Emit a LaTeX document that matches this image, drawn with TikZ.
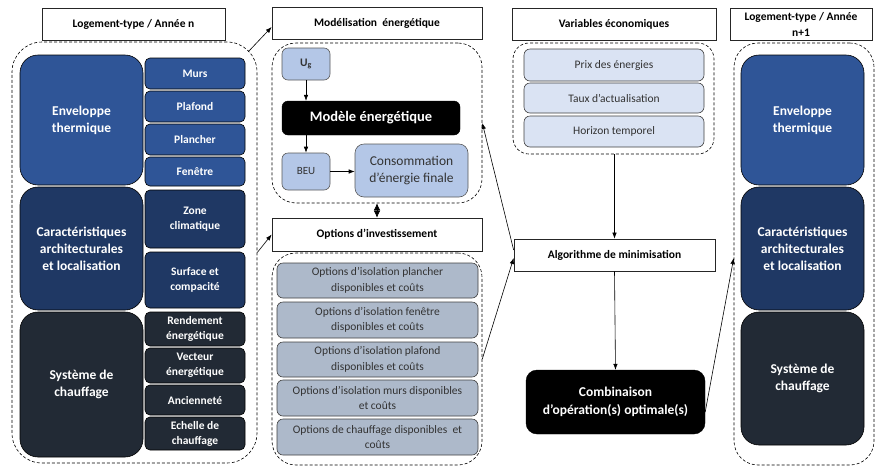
\documentclass[tikz,border=0pt]{standalone}
\usepackage{fontspec}
\setmainfont{Carlito}
\usepackage{xcolor}
\usetikzlibrary{arrows.meta, positioning, calc}
\definecolor{bleuEnv}{HTML}{2F5597}
\definecolor{bleuCar}{HTML}{1F3864}
\definecolor{grisSys}{HTML}{222A35}
\definecolor{bleuClair}{HTML}{B4C7E7}
\definecolor{grisOpt}{HTML}{ADB9CA}
\definecolor{bleuPale}{HTML}{DAE3F3}
\definecolor{texteGris}{HTML}{333333}
\begin{document}
\begin{tikzpicture}[x=1pt, y=-1pt,
    taille/.style 2 args={minimum width=#1pt, minimum height=#2pt},
    every node/.style={inner sep=0pt, align=center},
    entete/.style={draw=black!85, line width=0.7pt, fill=white, font=\fontsize{11.5}{15}\selectfont\bfseries},
    conteneur/.style={draw, line width=0.6pt, dash pattern=on 3pt off 2pt, rounded corners=24pt},
    grand/.style={draw=black, line width=0.6pt, rounded corners=18pt, text=white, font=\fontsize{13.5}{17}\selectfont\bfseries},
    petit/.style={draw=black, line width=0.6pt, rounded corners=5pt, text=white, font=\fontsize{11.5}{15}\selectfont\bfseries},
    option/.style={draw=black!75, line width=0.6pt, rounded corners=6pt, fill=grisOpt, text=texteGris, taille={201}{35}, font=\fontsize{11.5}{15.5}\selectfont},
    varbox/.style={draw=black!75, line width=0.6pt, rounded corners=6pt, fill=bleuPale, text=texteGris, font=\fontsize{11.5}{15}\selectfont},
    modele/.style={draw=black!65, line width=0.6pt, rounded corners=6pt, fill=bleuClair, text=texteGris},
    noir/.style={draw=black, fill=black, text=white, font=\bfseries},
    fleche/.style={-{Latex[length=6pt, width=4.5pt]}, line width=0.6pt}]
    \useasboundingbox (0,0) rectangle (876,467);

    % logement-type, annee n
    \node[entete, taille={183}{32}] (lgh) at (133.5,24) {Logement-type / Année n};
    \node[conteneur, taille={245}{421}, rounded corners=30pt] (lgc) at (134.5,252.5) {};
    \node[grand, fill=bleuEnv, taille={123}{130}] (env) at (81.5,120) {Enveloppe\\thermique};
    \node[grand, fill=bleuCar, taille={123}{123}] (car) at (81.5,248.5) {Caractéristiques\\architecturales\\et localisation};
    \node[grand, fill=grisSys, taille={123}{145}] (sys) at (81.5,384.5) {Système de\\chauffage};
    \node[petit, fill=bleuEnv, taille={100}{31}] (murs) at (195,73.5) {Murs};
    \node[petit, fill=bleuEnv, taille={100}{31}] (plafond) at (195,106.5) {Plafond};
    \node[petit, fill=bleuEnv, taille={100}{31}] (plancher) at (195,139.5) {Plancher};
    \node[petit, fill=bleuEnv, taille={100}{29}] (fenetre) at (195,171.5) {Fenêtre};
    \node[petit, fill=bleuCar, taille={100}{58}] (zone) at (195,219) {Zone\\climatique};
    \node[petit, fill=bleuCar, taille={100}{56}] (surface) at (195,280) {Surface et\\compacité};
    \node[petit, fill=grisSys, taille={100}{34}] (rendement) at (195,329) {Rendement\\énergétique};
    \node[petit, fill=grisSys, taille={100}{35}] (vecteur) at (195,365.5) {Vecteur\\énergétique};
    \node[petit, fill=grisSys, taille={100}{30}] (anciennete) at (195,400) {Ancienneté};
    \node[petit, fill=grisSys, taille={100}{33}] (echelle) at (195,433.5) {Echelle de\\chauffage};

    % modelisation energetique
    \node[entete, taille={210}{32}] (modh) at (377,23) {Modélisation~ énergétique};
    \node[conteneur, taille={210}{160}] (modc) at (377,123) {};
    \node[modele, taille={48}{32}, font=\fontsize{11.5}{14}\selectfont\bfseries] (ug) at (306,64) {U\textsubscript{g}};
    \node[noir, rounded corners=6pt, taille={178}{34}, font=\fontsize{14.5}{17}\selectfont\bfseries] (moteur) at (371,118) {Modèle énergétique};
    \node[modele, taille={48}{37}, font=\fontsize{11}{14}\selectfont] (beu) at (306,171.5) {BEU};
    \node[modele, rounded corners=9pt, taille={113}{53}, font=\fontsize{13.5}{17}\selectfont] (conso) at (411.5,170.5) {Consommation\\d’énergie finale};
    \draw[fleche] (ug.south) -- (ug.south |- moteur.north);
    \draw[fleche] (beu.north |- moteur.south) -- (beu.north);
    \draw[fleche] (beu.east) -- (beu.east -| conso.west);

    % options d'investissement
    \node[entete, taille={210}{33}] (opth) at (377,234.5) {Options d’investissement};
    \node[conteneur, taille={210}{212}] (optc) at (377,359) {};
    \node[option] (opt1) at (377.5,280.5) {Options d’isolation plancher\\disponibles et coûts};
    \node[option, taille={201}{36}] (opt2) at (377.5,320) {Options d’isolation fenêtre\\disponibles et coûts};
    \node[option] (opt3) at (377.5,359.5) {Options d’isolation plafond\\disponibles et coûts};
    \node[option, taille={201}{36}] (opt4) at (377.5,398) {Options d’isolation murs disponibles\\et coûts};
    \node[option, taille={201}{36}] (opt5) at (377.5,437) {Options de chauffage disponibles~ et\\coûts};
    \draw[{Latex[length=7pt, width=6.5pt]}-{Latex[length=7pt, width=6.5pt]}, line width=0.6pt] (modc.south) -- (opth.north);

    % variables economiques
    \node[entete, taille={204}{32}] (varh) at (614,24) {Variables économiques};
    \node[conteneur, taille={201}{111}, rounded corners=16pt] (varc) at (613.5,98.5) {};
    \node[varbox, taille={180}{32}] (prix) at (614,65) {Prix des énergies};
    \node[varbox, taille={180}{30}] (taux) at (614,98) {Taux d’actualisation};
    \node[varbox, taille={180}{31}] (horizon) at (614,131.5) {Horizon temporel};

    % algorithme et resultat
    \node[entete, taille={201}{32}] (algo) at (614.5,255) {Algorithme de minimisation};
    \node[noir, rounded corners=11pt, taille={179}{64}, font=\fontsize{13.5}{18}\selectfont\bfseries] (comb) at (615.5,402) {Combinaison\\d’opération(s) optimale(s)};
    \draw[fleche] (varc.south -| algo.north) -- (algo.north);
    \draw[fleche] (algo.south) -- (comb.north);

    % logement-type, annee n+1
    \node[entete, taille={142}{32}, font=\fontsize{11.5}{16}\selectfont\bfseries] (lgh2) at (801,24) {Logement-type / Année\\n+1};
    \node[conteneur, taille={140}{422}] (lgc2) at (804,254) {};
    \node[grand, fill=bleuEnv, taille={123}{130}] (env2) at (802.5,120) {Enveloppe\\thermique};
    \node[grand, fill=bleuCar, taille={123}{123}] (car2) at (802.5,248.5) {Caractéristiques\\architecturales\\et localisation};
    \node[grand, fill=grisSys, taille={123}{133}] (sys2) at (802.5,378.5) {Système de\\chauffage};

    % liaisons
    \draw[fleche] ($(lgc.north east)+(-9,10)$) -- ([yshift=-4pt]modh.west);
    \draw[fleche] (lgc.east) -- (opth.west);
    \draw[fleche] ([yshift=5pt]algo.west) -- (modc.east);
    \draw[fleche] (optc.east) -- ([yshift=-3pt]algo.west);
    \draw[fleche] ([yshift=-10pt]comb.east) -- ([yshift=-4pt]lgc2.west);
\end{tikzpicture}
\end{document}
